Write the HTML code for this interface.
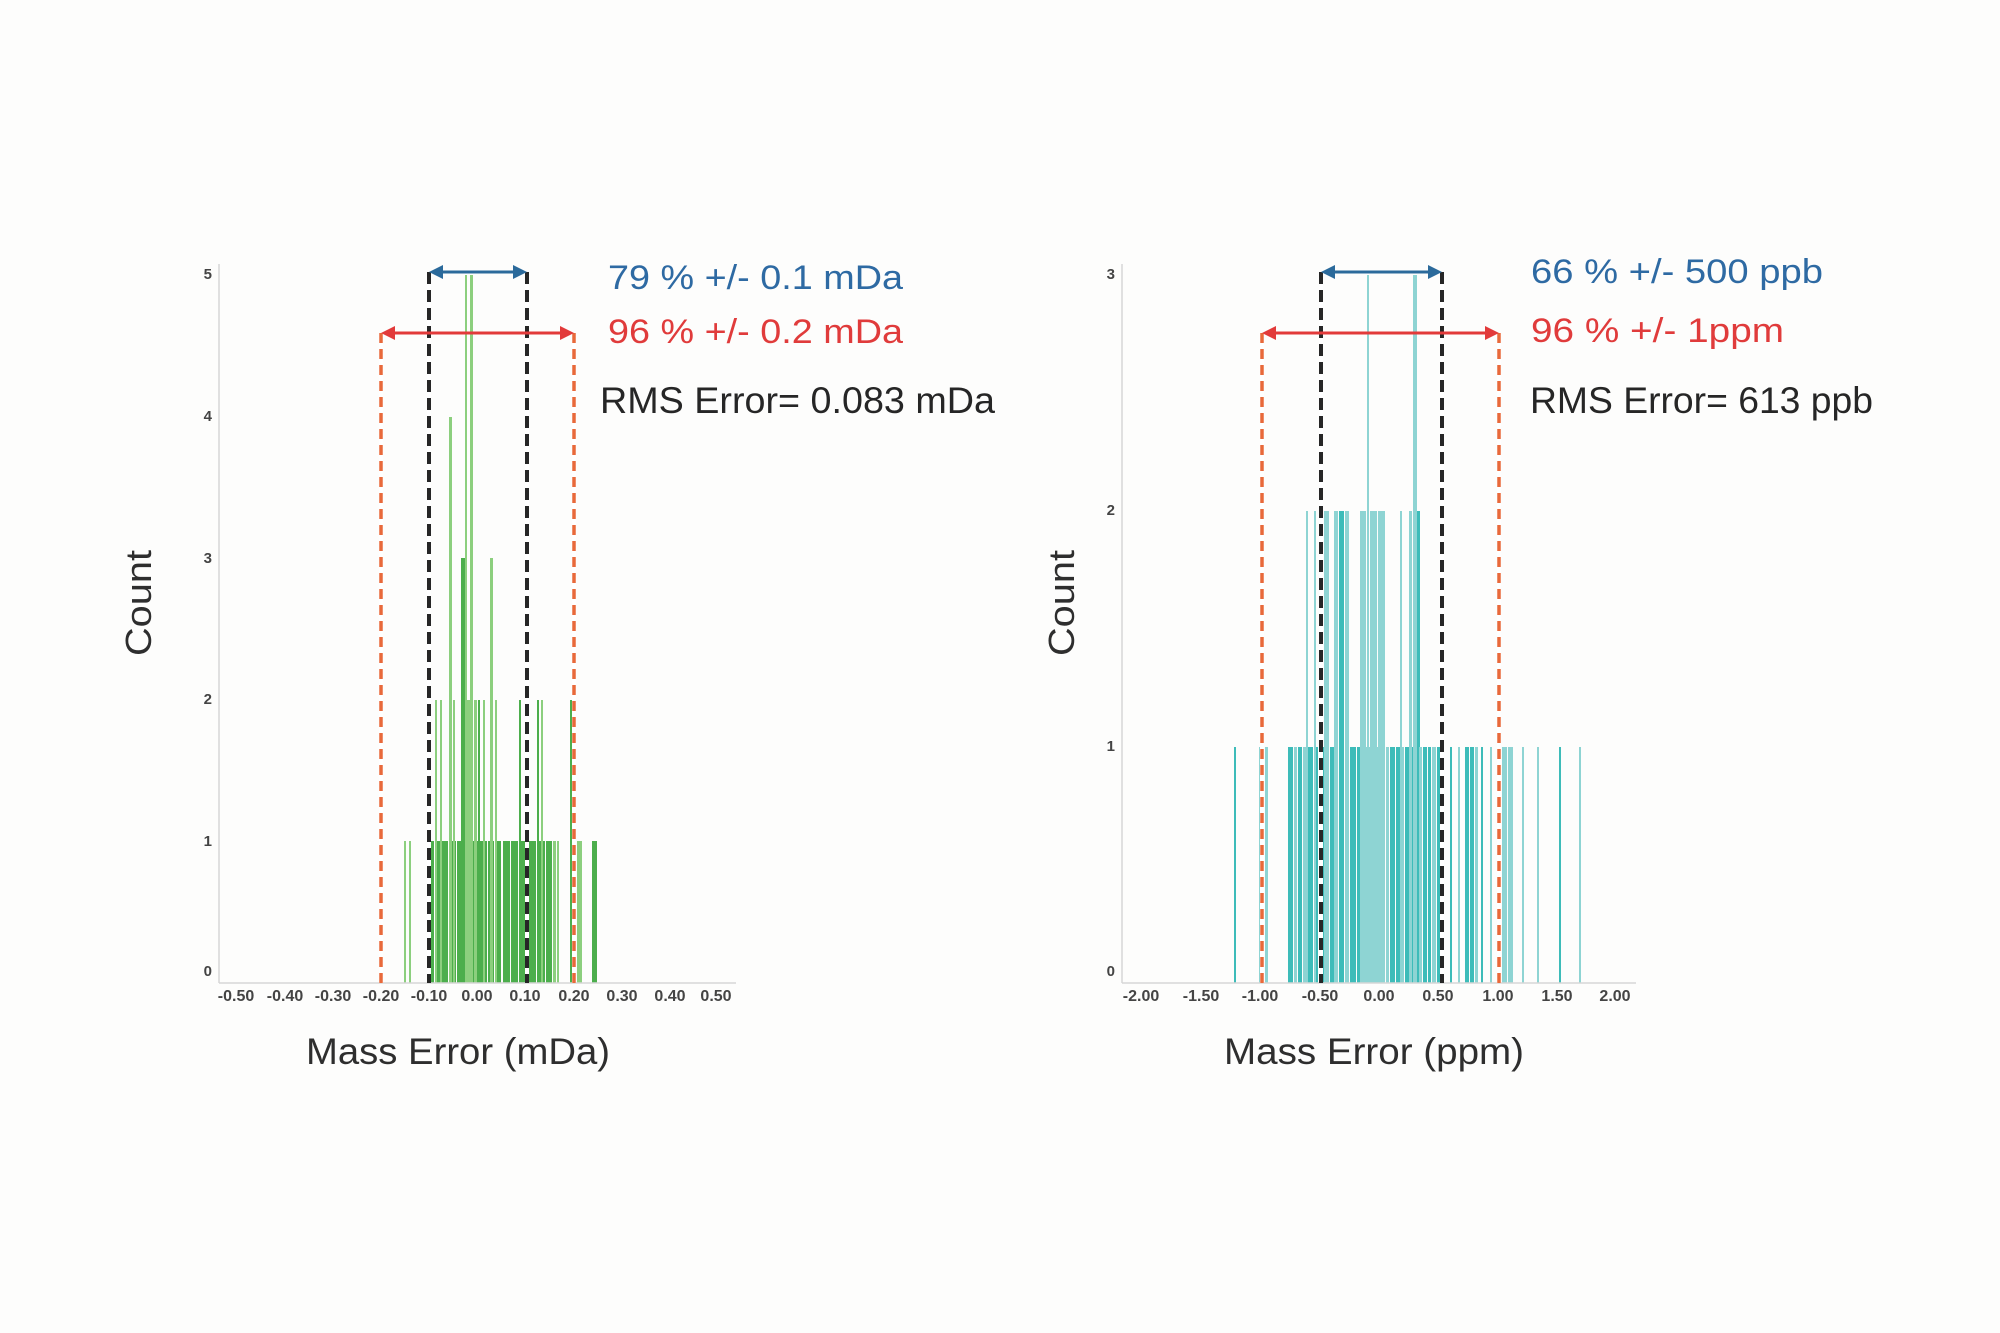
<!DOCTYPE html>
<html>
<head>
<meta charset="utf-8">
<style>
  html,body{margin:0;padding:0;background:#fdfdfc;}
  svg{display:block;}
  text{font-family:"Liberation Sans", Arial, sans-serif;}
</style>
</head>
<body>
<svg width="2000" height="1333" viewBox="0 0 2000 1333" xmlns="http://www.w3.org/2000/svg">
  <rect x="0" y="0" width="2000" height="1333" fill="#fdfdfc"/>

  <!-- ============ LEFT CHART ============ -->
  <g>
    <g fill="#4cae4c">
      <rect x="429" y="841" width="5" height="142"/>
      <rect x="435" y="841" width="6" height="142"/>
      <rect x="442" y="841" width="6" height="142"/>
      <rect x="449" y="841" width="7" height="142"/>
      <rect x="457" y="841" width="6" height="142"/>
      <rect x="464" y="841" width="7" height="142"/>
      <rect x="472" y="841" width="7" height="142"/>
      <rect x="480" y="841" width="7" height="142"/>
      <rect x="488" y="841" width="6" height="142"/>
      <rect x="495" y="841" width="6" height="142"/>
      <rect x="503" y="841" width="7" height="142"/>
      <rect x="511" y="841" width="7" height="142"/>
      <rect x="520" y="841" width="6" height="142"/>
      <rect x="529" y="841" width="7" height="142"/>
      <rect x="537" y="841" width="8" height="142"/>
      <rect x="546" y="841" width="6" height="142"/>
      <rect x="570" y="841" width="2" height="142"/>
      <rect x="592" y="841" width="5" height="142"/>
      <rect x="478" y="700" width="2" height="283"/>
      <rect x="519" y="700" width="2" height="283"/>
      <rect x="537" y="700" width="2" height="283"/>
      <rect x="570" y="700" width="2" height="283"/>
      <rect x="461" y="558" width="4" height="425"/>
    </g>
    <g fill="#8ccf7e">
      <rect x="404" y="841" width="2" height="142"/>
      <rect x="409" y="841" width="2" height="142"/>
      <rect x="553" y="841" width="3" height="142"/>
      <rect x="557" y="841" width="2" height="142"/>
      <rect x="577" y="841" width="5" height="142"/>
      <rect x="435" y="700" width="2" height="283"/>
      <rect x="440" y="700" width="2" height="283"/>
      <rect x="453" y="700" width="2" height="283"/>
      <rect x="466" y="700" width="7" height="283"/>
      <rect x="474" y="700" width="3" height="283"/>
      <rect x="483" y="700" width="2" height="283"/>
      <rect x="495" y="700" width="2" height="283"/>
      <rect x="541" y="700" width="2" height="283"/>
      <rect x="490" y="558" width="3" height="425"/>
      <rect x="449" y="417" width="3" height="566"/>
      <rect x="465" y="275" width="2" height="708"/>
      <rect x="470" y="275" width="3" height="708"/>
    </g>

    <line x1="219" y1="264" x2="219" y2="983" stroke="#d6d6d6" stroke-width="1.5"/>
    <line x1="219" y1="983" x2="736" y2="983" stroke="#d6d6d6" stroke-width="1.5"/>

    <g stroke-width="4">
      <line x1="381" y1="333" x2="381" y2="983" stroke="#ffffff"/>
      <line x1="574" y1="333" x2="574" y2="983" stroke="#ffffff"/>
      <line x1="429" y1="272" x2="429" y2="983" stroke="#ffffff"/>
      <line x1="527" y1="272" x2="527" y2="983" stroke="#ffffff"/>
      <line x1="381" y1="333" x2="381" y2="983" stroke="#e8693a" stroke-dasharray="10 6" stroke-width="3.5"/>
      <line x1="574" y1="333" x2="574" y2="983" stroke="#e8693a" stroke-dasharray="10 6" stroke-width="3.5"/>
      <line x1="429" y1="272" x2="429" y2="983" stroke="#262626" stroke-dasharray="12 6"/>
      <line x1="527" y1="272" x2="527" y2="983" stroke="#262626" stroke-dasharray="12 6"/>
    </g>

    <line x1="438" y1="272" x2="518" y2="272" stroke="#2b6a9b" stroke-width="3"/>
    <polygon points="429,272 443,265 443,279" fill="#2b6a9b"/>
    <polygon points="527,272 513,265 513,279" fill="#2b6a9b"/>
    <line x1="390" y1="333" x2="565" y2="333" stroke="#e23a3a" stroke-width="3"/>
    <polygon points="381,333 395,326 395,340" fill="#e23a3a"/>
    <polygon points="574,333 560,326 560,340" fill="#e23a3a"/>

    <g font-size="15" font-weight="bold" fill="#444" text-anchor="end">
      <text x="212" y="279">5</text>
      <text x="212" y="421">4</text>
      <text x="212" y="563">3</text>
      <text x="212" y="704">2</text>
      <text x="212" y="846">1</text>
      <text x="212" y="976">0</text>
    </g>
    <g font-size="16" font-weight="bold" fill="#444" text-anchor="middle">
      <text x="236" y="1001">-0.50</text>
      <text x="285" y="1001">-0.40</text>
      <text x="333" y="1001">-0.30</text>
      <text x="381" y="1001">-0.20</text>
      <text x="429" y="1001">-0.10</text>
      <text x="477" y="1001">0.00</text>
      <text x="525" y="1001">0.10</text>
      <text x="574" y="1001">0.20</text>
      <text x="622" y="1001">0.30</text>
      <text x="670" y="1001">0.40</text>
      <text x="716" y="1001">0.50</text>
    </g>

    <text x="0" y="0" font-size="36" fill="#2e2e2e" text-anchor="middle" transform="translate(151,603) rotate(-90)" textLength="106" lengthAdjust="spacingAndGlyphs">Count</text>
    <text x="306" y="1064" font-size="37" fill="#2e2e2e" textLength="304" lengthAdjust="spacingAndGlyphs">Mass Error (mDa)</text>

    <text x="608" y="289" font-size="34" fill="#2e6aa3" textLength="295" lengthAdjust="spacingAndGlyphs">79 % +/- 0.1 mDa</text>
    <text x="608" y="343" font-size="34" fill="#e03b3b" textLength="295" lengthAdjust="spacingAndGlyphs">96 % +/- 0.2 mDa</text>
    <text x="600" y="413" font-size="37" fill="#262626" textLength="395" lengthAdjust="spacingAndGlyphs">RMS Error= 0.083 mDa</text>
  </g>

  <!-- ============ RIGHT CHART ============ -->
  <g>
    <g fill="#3dbcb9">
      <rect x="1234" y="747" width="2" height="236"/>
      <rect x="1288" y="747" width="5" height="236"/>
      <rect x="1298" y="747" width="4" height="236"/>
      <rect x="1307" y="747" width="6" height="236"/>
      <rect x="1314" y="747" width="4" height="236"/>
      <rect x="1319" y="747" width="6" height="236"/>
      <rect x="1330" y="747" width="4" height="236"/>
      <rect x="1339" y="747" width="5" height="236"/>
      <rect x="1345" y="747" width="4" height="236"/>
      <rect x="1350" y="747" width="6" height="236"/>
      <rect x="1357" y="747" width="5" height="236"/>
      <rect x="1381" y="747" width="4" height="236"/>
      <rect x="1390" y="747" width="5" height="236"/>
      <rect x="1396" y="747" width="4" height="236"/>
      <rect x="1405" y="747" width="5" height="236"/>
      <rect x="1411" y="747" width="7" height="236"/>
      <rect x="1423" y="747" width="4" height="236"/>
      <rect x="1428" y="747" width="3" height="236"/>
      <rect x="1437" y="747" width="3" height="236"/>
      <rect x="1450" y="747" width="2" height="236"/>
      <rect x="1465" y="747" width="4" height="236"/>
      <rect x="1470" y="747" width="4" height="236"/>
      <rect x="1481" y="747" width="2" height="236"/>
      <rect x="1559" y="747" width="2" height="236"/>
      <rect x="1339" y="511" width="5" height="472"/>
      <rect x="1413" y="511" width="7" height="472"/>
    </g>
    <g fill="#8ed4d3">
      <rect x="1259" y="747" width="2" height="236"/>
      <rect x="1265" y="747" width="3" height="236"/>
      <rect x="1294" y="747" width="3" height="236"/>
      <rect x="1303" y="747" width="3" height="236"/>
      <rect x="1326" y="747" width="3" height="236"/>
      <rect x="1335" y="747" width="3" height="236"/>
      <rect x="1363" y="747" width="4" height="236"/>
      <rect x="1368" y="747" width="6" height="236"/>
      <rect x="1375" y="747" width="5" height="236"/>
      <rect x="1386" y="747" width="3" height="236"/>
      <rect x="1401" y="747" width="3" height="236"/>
      <rect x="1419" y="747" width="3" height="236"/>
      <rect x="1432" y="747" width="4" height="236"/>
      <rect x="1458" y="747" width="2" height="236"/>
      <rect x="1475" y="747" width="3" height="236"/>
      <rect x="1490" y="747" width="2" height="236"/>
      <rect x="1497" y="747" width="4" height="236"/>
      <rect x="1502" y="747" width="5" height="236"/>
      <rect x="1508" y="747" width="5" height="236"/>
      <rect x="1522" y="747" width="2" height="236"/>
      <rect x="1537" y="747" width="2" height="236"/>
      <rect x="1579" y="747" width="2" height="236"/>
      <rect x="1306" y="511" width="2" height="472"/>
      <rect x="1314" y="511" width="2" height="472"/>
      <rect x="1324" y="511" width="5" height="472"/>
      <rect x="1334" y="511" width="4" height="472"/>
      <rect x="1345" y="511" width="4" height="472"/>
      <rect x="1360" y="511" width="6" height="472"/>
      <rect x="1370" y="511" width="7" height="472"/>
      <rect x="1378" y="511" width="7" height="472"/>
      <rect x="1400" y="511" width="2" height="472"/>
      <rect x="1409" y="511" width="3" height="472"/>
      <rect x="1367" y="275" width="2" height="708"/>
      <rect x="1413" y="275" width="4" height="708"/>
    </g>

    <line x1="1122" y1="264" x2="1122" y2="983" stroke="#d6d6d6" stroke-width="1.5"/>
    <line x1="1122" y1="983" x2="1636" y2="983" stroke="#d6d6d6" stroke-width="1.5"/>

    <g stroke-width="4">
      <line x1="1262" y1="333" x2="1262" y2="983" stroke="#ffffff"/>
      <line x1="1499" y1="333" x2="1499" y2="983" stroke="#ffffff"/>
      <line x1="1321" y1="272" x2="1321" y2="983" stroke="#ffffff"/>
      <line x1="1442" y1="272" x2="1442" y2="983" stroke="#ffffff"/>
      <line x1="1262" y1="333" x2="1262" y2="983" stroke="#e8693a" stroke-dasharray="10 6" stroke-width="3.5"/>
      <line x1="1499" y1="333" x2="1499" y2="983" stroke="#e8693a" stroke-dasharray="10 6" stroke-width="3.5"/>
      <line x1="1321" y1="272" x2="1321" y2="983" stroke="#262626" stroke-dasharray="12 6"/>
      <line x1="1442" y1="272" x2="1442" y2="983" stroke="#262626" stroke-dasharray="12 6"/>
    </g>

    <line x1="1330" y1="272" x2="1433" y2="272" stroke="#2b6a9b" stroke-width="3"/>
    <polygon points="1321,272 1335,265 1335,279" fill="#2b6a9b"/>
    <polygon points="1442,272 1428,265 1428,279" fill="#2b6a9b"/>
    <line x1="1271" y1="333" x2="1490" y2="333" stroke="#e23a3a" stroke-width="3"/>
    <polygon points="1262,333 1276,326 1276,340" fill="#e23a3a"/>
    <polygon points="1499,333 1485,326 1485,340" fill="#e23a3a"/>

    <g font-size="15" font-weight="bold" fill="#444" text-anchor="end">
      <text x="1115" y="279">3</text>
      <text x="1115" y="515">2</text>
      <text x="1115" y="751">1</text>
      <text x="1115" y="976">0</text>
    </g>
    <g font-size="16" font-weight="bold" fill="#444" text-anchor="middle">
      <text x="1141" y="1001">-2.00</text>
      <text x="1201" y="1001">-1.50</text>
      <text x="1260" y="1001">-1.00</text>
      <text x="1320" y="1001">-0.50</text>
      <text x="1379" y="1001">0.00</text>
      <text x="1438" y="1001">0.50</text>
      <text x="1498" y="1001">1.00</text>
      <text x="1557" y="1001">1.50</text>
      <text x="1615" y="1001">2.00</text>
    </g>

    <text x="0" y="0" font-size="36" fill="#2e2e2e" text-anchor="middle" transform="translate(1074,603) rotate(-90)" textLength="106" lengthAdjust="spacingAndGlyphs">Count</text>
    <text x="1224" y="1064" font-size="37" fill="#2e2e2e" textLength="300" lengthAdjust="spacingAndGlyphs">Mass Error (ppm)</text>

    <text x="1531" y="283" font-size="34" fill="#2e6aa3" textLength="292" lengthAdjust="spacingAndGlyphs">66 % +/- 500 ppb</text>
    <text x="1531" y="342" font-size="34" fill="#e03b3b" textLength="253" lengthAdjust="spacingAndGlyphs">96 % +/- 1ppm</text>
    <text x="1530" y="413" font-size="37" fill="#262626" textLength="343" lengthAdjust="spacingAndGlyphs">RMS Error= 613 ppb</text>
  </g>
</svg>
</body>
</html>
